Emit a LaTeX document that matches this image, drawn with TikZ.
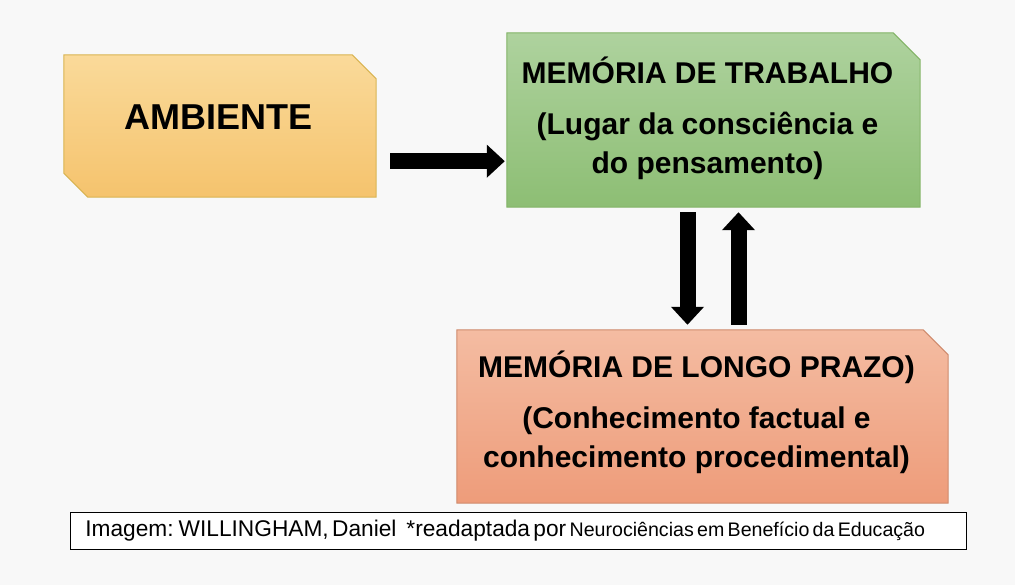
\documentclass[tikz,border=0pt]{standalone}
\usepackage{fontspec}
\setmainfont{Liberation Sans}
\usepackage{tikz}
\usetikzlibrary{arrows.meta,positioning,calc}

\definecolor{pageBg}{HTML}{F8F8F8}
\definecolor{ambTop}{HTML}{FADA9A}
\definecolor{ambBot}{HTML}{F5C36D}
\definecolor{ambLine}{HTML}{D9B451}
\definecolor{workTop}{HTML}{AED29E}
\definecolor{workBot}{HTML}{8DBE74}
\definecolor{workLine}{HTML}{82B366}
\definecolor{longTop}{HTML}{F4BCA2}
\definecolor{longBot}{HTML}{EE9C7A}
\definecolor{longLine}{HTML}{CF8A6C}

\begin{document}
\begin{tikzpicture}[
    x=1pt, y=-1pt,
    area/.style={rectangle, inner sep=0pt, draw=none},
    ambFill/.style={draw=ambLine, line width=1pt, top color=ambTop, bottom color=ambBot},
    workFill/.style={draw=workLine, line width=1pt, top color=workTop, bottom color=workBot},
    longFill/.style={draw=longLine, line width=1pt, top color=longTop, bottom color=longBot},
    memText/.style={inner sep=0pt, align=center, font=\fontsize{30}{39}\selectfont\bfseries},
    bigArrow/.style={-{Triangle[length=18pt, width=32pt]}, line width=16pt, draw=black},
    capBox/.style={draw=black, line width=0.8pt, fill=white, inner xsep=15pt, inner ysep=0pt,
        minimum height=37pt, text width=866pt, align=left, anchor=west}
]

% Page
\fill[pageBg] (0,0) rectangle (1015,585);

% Boxes
\node[area, minimum width=312pt, minimum height=142pt] (amb) at (220,126) {};
\node[area, minimum width=413pt, minimum height=174pt] (work) at (713.5,120) {};
\node[area, minimum width=491pt, minimum height=173pt] (long) at (702.5,416.5) {};

\path[ambFill] (amb.north west) -- ([xshift=-24pt]amb.north east) -- ([yshift=-24pt]amb.north east)
    -- (amb.south east) -- ([xshift=24pt]amb.south west) -- ([yshift=24pt]amb.south west) -- cycle;
\path[workFill] (work.north west) -- ([xshift=-27pt]work.north east) -- ([yshift=-27pt]work.north east)
    -- (work.south east) -- (work.south west) -- cycle;
\path[longFill] (long.north west) -- ([xshift=-25pt]long.north east) -- ([yshift=-25pt]long.north east)
    -- (long.south east) -- (long.south west) -- cycle;

% Texts
\node[inner sep=0pt, font=\fontsize{36}{40}\selectfont\bfseries] (ambTxt) at ($(amb.center)+(-1.5,-8.5)$) {AMBIENTE};
\node[memText] (workTxt) at ($(work.center)+(-6,-1.6)$)
    {MEMÓRIA DE TRABALHO\\[12pt](Lugar da consciência e\\do pensamento)};
\node[memText] (longTxt) at ($(long.center)+(-6,-4)$)
    {MEMÓRIA DE LONGO PRAZO)\\[12pt](Conhecimento factual e\\conhecimento procedimental)};

% Arrows
\coordinate (envOut) at ($(amb.south east)+(14,-36)$);
\draw[bigArrow, shorten >=2pt] (envOut) -- (envOut -| work.west);
\draw[bigArrow, shorten <=5pt, shorten >=5pt] ([xshift=-26pt]work.south) -- ([xshift=-26pt]work.south |- long.north);
\draw[bigArrow, shorten <=5pt, shorten >=5pt] ([xshift=25pt]work.south |- long.north) -- ([xshift=25pt]work.south);

% Source
\node[capBox] (src) at (70,530.5)
    {\fontsize{22.7}{26}\selectfont Imagem: WILLINGHAM, Daniel\ \ \ *readaptada por {\fontsize{19.6}{22}\selectfont Neurociências em Benefício da Educação}};

\end{tikzpicture}
\end{document}
